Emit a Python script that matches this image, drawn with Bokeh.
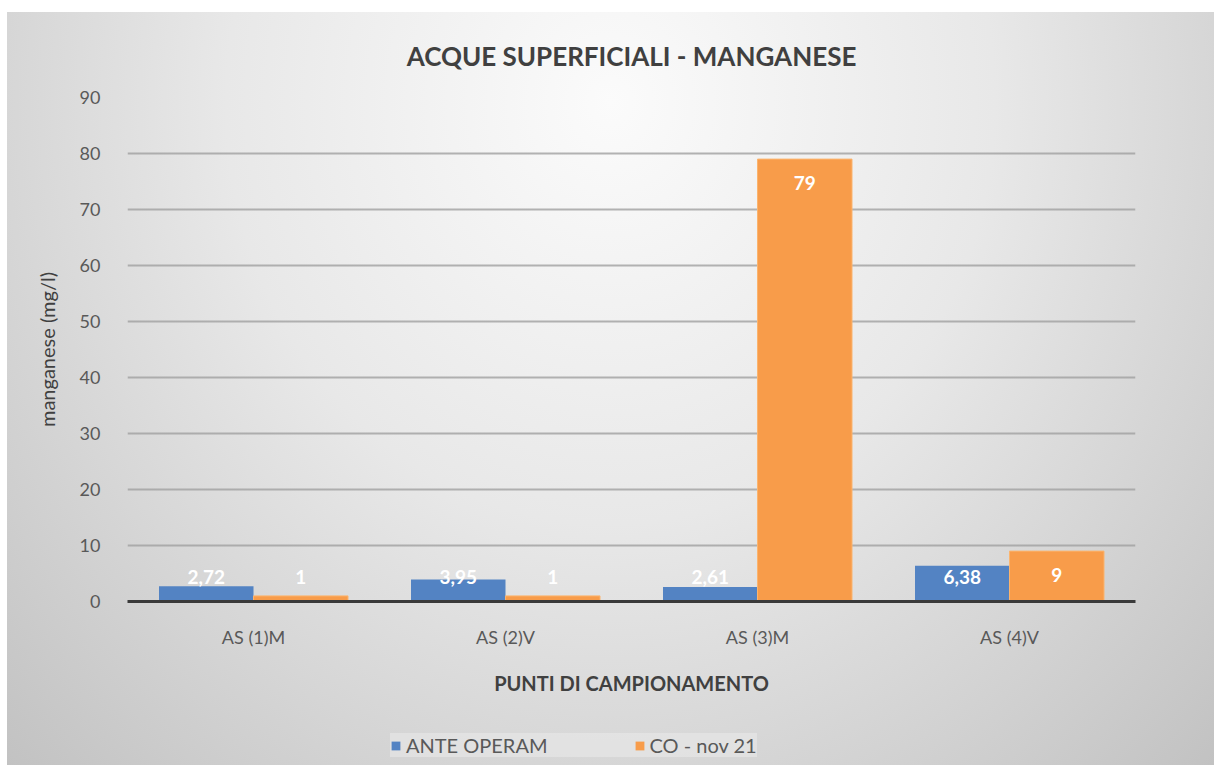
from bokeh.plotting import figure
from bokeh.layouts import column
from bokeh.models import FactorRange, Range1d, ColumnDataSource, LabelSet, Legend, LegendItem, SingleIntervalTicker
from bokeh.transform import dodge
from bokeh.embed import file_html
from bokeh.resources import INLINE
from bokeh.core.properties import value

categories = ["AS (1)M", "AS (2)V", "AS (3)M", "AS (4)V"]
ante_operam = [2.72, 3.95, 2.61, 6.38]
co_nov21 = [1, 1, 79, 9]
series_names = ["ANTE OPERAM", "CO - nov 21"]
colors = ["#5383c3", "#f89c4a"]

FONT = "Lato"

def fmt(v):
    return ("%g" % v).replace(".", ",")

src = ColumnDataSource(dict(
    cat=categories,
    a=ante_operam,
    b=co_nov21,
    a_lab=[fmt(v) for v in ante_operam],
    b_lab=[fmt(v) for v in co_nov21],
    a_ly=[max(v, 8.6) for v in ante_operam],
    b_ly=[max(v, 8.6) for v in co_nov21],
))

p = figure(x_range=FactorRange(*categories), y_range=Range1d(0, 90),
           width=1214, height=715,
           output_backend="svg", toolbar_location=None,
           min_border_left=127, min_border_right=79, min_border_top=97, min_border_bottom=114)

p.border_fill_alpha = 0
p.background_fill_alpha = 0
p.outline_line_color = None

p.title.text = "ACQUE SUPERFICIALI - MANGANESE"
p.title.align = "center"
p.title.text_font = FONT
p.title.text_font_size = "26px"
p.title.text_color = "#404040"
p.title.text_font_style = "bold"
p.title.standoff = 52

w = 0.375
r1 = p.vbar(x=dodge("cat", -w / 2, range=p.x_range), top="a", width=w, source=src,
            fill_color=colors[0], line_color=None)
r2 = p.vbar(x=dodge("cat", w / 2, range=p.x_range), top="b", width=w, source=src,
            fill_color=colors[1], line_color="#fbb46e", line_width=1)

for xcol_off, lab, ly in [(-w / 2, "a_lab", "a_ly"), (w / 2, "b_lab", "b_ly")]:
    ls = LabelSet(x=dodge("cat", xcol_off, range=p.x_range), y=ly, text=lab, source=src,
                  y_offset=-24, text_align="center", text_baseline="middle",
                  text_color="white", text_font=value(FONT), text_font_style="bold",
                  text_font_size="19px")
    p.add_layout(ls)

# axes
p.xaxis.axis_line_color = "#3a3a3a"
p.xaxis.axis_line_width = 3
p.xaxis.major_tick_line_color = None
p.xaxis.minor_tick_line_color = None
p.xaxis.major_label_standoff = 18
p.xaxis.major_label_text_font = FONT
p.xaxis.major_label_text_font_size = "18px"
p.xaxis.major_label_text_color = "#595959"
p.xaxis.axis_label = "PUNTI DI CAMPIONAMENTO"
p.xaxis.axis_label_text_font = FONT
p.xaxis.axis_label_text_font_size = "20px"
p.xaxis.axis_label_text_font_style = "bold"
p.xaxis.axis_label_text_color = "#404040"
p.xaxis.axis_label_standoff = 20

p.yaxis.ticker = SingleIntervalTicker(interval=10)
p.yaxis.axis_line_color = None
p.yaxis.major_tick_line_color = None
p.yaxis.minor_tick_line_color = None
p.yaxis.major_label_standoff = 21
p.yaxis.major_label_text_font = FONT
p.yaxis.major_label_text_font_size = "18px"
p.yaxis.major_label_text_color = "#595959"
p.yaxis.axis_label = "manganese (mg/l)"
p.yaxis.axis_label_text_font = FONT
p.yaxis.axis_label_text_font_size = "20px"
p.yaxis.axis_label_text_font_style = "normal"
p.yaxis.axis_label_text_color = "#404040"
p.yaxis.axis_label_standoff = 18

p.xgrid.grid_line_color = None
p.ygrid.grid_line_color = "#a0a0a0"
p.ygrid.grid_line_width = 2
p.ygrid.grid_line_alpha = 0.8

# legend strip (second figure using the chart's series colours)
p2 = figure(width=1214, height=50, x_range=Range1d(0, 1), y_range=Range1d(0, 1),
            x_axis_type=None, y_axis_type=None, output_backend="svg", toolbar_location=None,
            min_border_left=127, min_border_right=79, min_border_top=0, min_border_bottom=0)
p2.border_fill_alpha = 0
p2.background_fill_alpha = 0
p2.outline_line_color = None
p2.xgrid.visible = False
p2.ygrid.visible = False
# a single swatch entry per series, placed outside the visible range of this strip
lg_src = ColumnDataSource(dict(x=[-5], y=[-5]))
g1 = p2.vbar(x="x", top="y", width=0.1, source=lg_src, fill_color=colors[0], line_color=None)
g2 = p2.vbar(x="x", top="y", width=0.1, source=lg_src, fill_color=colors[1], line_color=None)

legend = Legend(items=[LegendItem(label=series_names[0], renderers=[g1]),
                       LegendItem(label=series_names[1], renderers=[g2])],
                orientation="horizontal", location=(263, 8),
                background_fill_color="#f0f0f0", background_fill_alpha=0.45,
                border_line_color=None, label_text_font=FONT, label_text_font_size="20px",
                label_text_color="#595959", glyph_width=11, glyph_height=11,
                spacing=86, padding=6, margin=0, label_standoff=5,
                label_height=20)
p2.add_layout(legend, "center")

layout = column(p, p2, spacing=0, styles={
    "background": "radial-gradient(ellipse farthest-corner at 50% 12%, #fbfbfb 0%, #e8e8e8 45%, #c2c2c2 100%) 7px 12px / 1207px 753px no-repeat, white"})

open("out.html", "w").write(file_html(layout, INLINE))
